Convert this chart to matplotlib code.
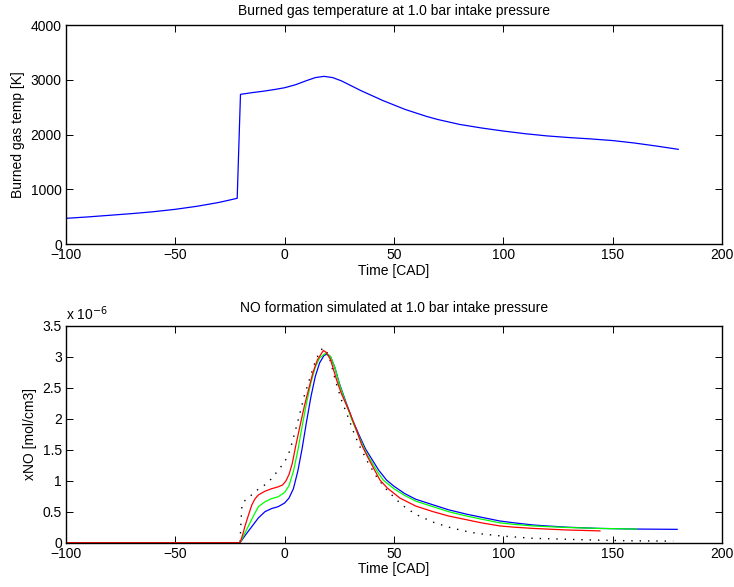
import numpy as np
import matplotlib
matplotlib.use('Agg')
import matplotlib.pyplot as plt

plt.rcParams['font.family'] = ['Liberation Sans', 'DejaVu Sans']
plt.rcParams['font.size'] = 10

# Burned gas temperature [K] vs crank angle
cad_T = [-100, -90, -80, -70, -60, -50, -40, -30, -21.7, -20.2, -15, -10, -5, 0, 5, 10, 14,
         18, 22, 26, 30, 35, 40, 45, 50, 55, 60, 65, 70, 80, 90, 100, 110, 120, 130, 140,
         150, 160, 170, 180]
temp = [469, 495, 525, 555, 590, 634, 690, 760, 835, 2734, 2765, 2790, 2820, 2855, 2910,
        2985, 3040, 3063, 3040, 2980, 2900, 2800, 2710, 2620, 2540, 2460, 2395, 2330, 2275,
        2185, 2120, 2064, 2015, 1975, 1945, 1920, 1890, 1845, 1790, 1730]

# NO concentration, in units of 1e-6 mol/cm3
cad_blue = [-100, -20.4, -18, -15, -12, -9, -6, -3, 0, 2, 4, 6, 8, 10, 12, 14, 16, 18, 19.5,
            21, 23, 25, 28, 31, 34, 37, 40, 43, 46.6, 50, 55, 60, 67.9, 75, 83.2, 90, 98.4,
            105, 113.7, 120, 129, 144, 160, 179.5]
no_blue = [0, 0, 0.12, 0.26, 0.40, 0.50, 0.55, 0.58, 0.64, 0.72, 0.87, 1.15, 1.52, 1.95,
           2.35, 2.68, 2.90, 3.02, 3.04, 3.00, 2.82, 2.57, 2.27, 1.98, 1.74, 1.51, 1.34, 1.17,
           1.01, 0.91, 0.79, 0.70, 0.61, 0.53, 0.46, 0.41, 0.35, 0.32, 0.285, 0.27, 0.25,
           0.23, 0.22, 0.215]

cad_green = [-100, -20.4, -18.5, -16.7, -14, -12, -9, -6, -3, 0, 2, 4, 6, 8, 10, 12, 14, 16,
             18.9, 21, 23, 25, 28, 31, 34, 37, 40, 42.5, 45.1, 50, 55, 60, 67.9, 75, 83.2, 90,
             98.4, 105, 113.7, 129, 144, 161]
no_green = [0, 0, 0.13, 0.26, 0.45, 0.58, 0.66, 0.71, 0.74, 0.81, 0.92, 1.15, 1.48, 1.88,
            2.25, 2.58, 2.83, 2.98, 3.06, 3.00, 2.82, 2.56, 2.25, 1.96, 1.71, 1.47, 1.29, 1.14,
            1.01, 0.87, 0.76, 0.67, 0.58, 0.50, 0.43, 0.38, 0.32, 0.295, 0.27, 0.245, 0.23,
            0.22]

cad_red = [-100, -20.4, -19, -18.2, -16.5, -15, -13.5, -12, -9, -6, -3, -1, 0.5, 2, 3.5, 5, 7,
           9, 11, 13, 15, 17.7, 19, 21, 23.8, 26, 29.9, 33, 35.2, 38, 41, 43.6, 47, 52.7, 60,
           67.9, 75, 83.2, 90, 98.4, 105, 113.7, 129, 144.2]
no_red = [0, 0, 0.15, 0.26, 0.45, 0.61, 0.71, 0.77, 0.83, 0.87, 0.90, 0.93, 0.99, 1.10, 1.28,
          1.55, 1.88, 2.20, 2.48, 2.75, 2.95, 3.10, 3.07, 2.95, 2.62, 2.40, 2.09, 1.80, 1.58,
          1.38, 1.18, 1.01, 0.88, 0.72, 0.59, 0.50, 0.43, 0.37, 0.32, 0.27, 0.25, 0.23, 0.205,
          0.19]

cad_dot = [-100, -20.4, -20, -19.5, -17, -14, -12, -9.5, -7.5, -5.5, -3.7, -2, 0.1, 1.8, 3.2,
           5, 7, 9, 11.5, 14, 16, 17.5, 19, 21, 23.5, 26, 29.5, 32, 34.4, 38, 42.1, 46, 51.2,
           55.8, 61, 68, 75, 82, 87.8, 98.4, 113.7, 129, 144.2, 159.4, 177.7]
no_dot = [0, 0, 0.3, 0.63, 0.72, 0.80, 0.866, 0.92, 0.98, 1.05, 1.135, 1.21, 1.31, 1.43, 1.59,
          1.82, 2.09, 2.37, 2.65, 2.92, 3.08, 3.14, 3.10, 2.92, 2.58, 2.30, 1.98, 1.74, 1.55,
          1.30, 1.06, 0.88, 0.69, 0.55, 0.44, 0.33, 0.25, 0.19, 0.15, 0.11, 0.07, 0.055, 0.04,
          0.03, 0.025]

fig = plt.figure(figsize=(7.34, 5.87), dpi=100)
ax1 = fig.add_axes([0.0899, 0.5843, 0.8937, 0.373])
ax2 = fig.add_axes([0.0899, 0.0755, 0.8937, 0.3697])

ax1.plot(cad_T, temp, color='b', lw=0.9)
ax1.set_xlim(-100, 200)
ax1.set_ylim(0, 4000)
ax1.set_yticks([0, 1000, 2000, 3000, 4000])
ax1.set_title('Burned gas temperature at 1.0 bar intake pressure', fontsize=10, pad=7)
ax1.set_xlabel('Time [CAD]', labelpad=1)
ax1.set_ylabel('Burned gas temp [K]', labelpad=4)

ax2.plot(cad_dot, no_dot, color='k', lw=1.0, linestyle=(0, (1, 5)))
ax2.plot(cad_blue, no_blue, color='b', lw=0.9)
ax2.plot(cad_green, no_green, color=(0, 1, 0), lw=0.9)
ax2.plot(cad_red, no_red, color='r', lw=0.9)
ax2.set_xlim(-100, 200)
ax2.set_ylim(0, 3.5)
ax2.set_yticks([0, 0.5, 1, 1.5, 2, 2.5, 3, 3.5])
ax2.set_yticklabels(['0', '0.5', '1', '1.5', '2', '2.5', '3', '3.5'])
ax2.set_title('NO formation simulated at 1.0 bar intake pressure', fontsize=10, pad=10)
ax2.set_xlabel('Time [CAD]', labelpad=1)
ax2.set_ylabel('xNO [mol/cm3]', labelpad=4)
ax2.text(0.0, 1.012, r'x 10$^{-6}$', transform=ax2.transAxes, ha='left', va='bottom', fontsize=10)

for ax in (ax1, ax2):
    ax.set_xticks([-100, -50, 0, 50, 100, 150, 200])
    ax.tick_params(direction='in', length=5, width=0.7, top=True, right=True, labelsize=10, pad=3)
    for s in ax.spines.values():
        s.set_linewidth(1.0)

fig.savefig('out.png', dpi=100)
